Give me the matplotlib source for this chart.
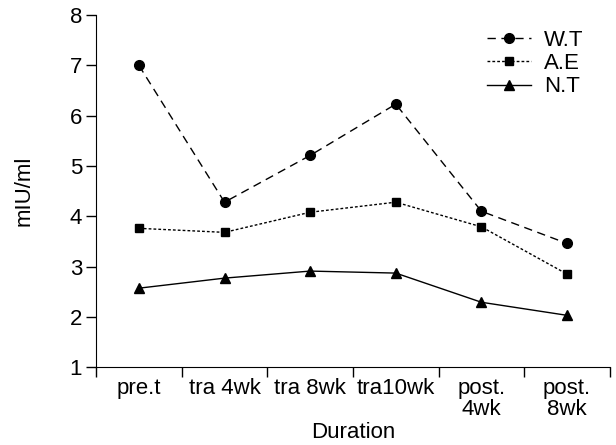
import numpy as np
import matplotlib.pyplot as plt
import matplotlib
matplotlib.rcParams.update({'font.size': 16, 'font.family': ['Liberation Sans', 'DejaVu Sans']})

categories = ['pre.t', 'tra 4wk', 'tra 8wk', 'tra10wk', 'post.\n4wk', 'post.\n8wk']
wt = [7.0, 4.28, 5.21, 6.23, 4.10, 3.46]
ae = [3.76, 3.68, 4.08, 4.28, 3.79, 2.85]
nt = [2.57, 2.77, 2.91, 2.87, 2.29, 2.03]

fig = plt.figure(figsize=(6.16, 4.45), dpi=100, facecolor='w')
ax = fig.add_axes([0.156, 0.175, 0.834, 0.791])

x = np.arange(len(categories))
ax.plot(x, wt, color='k', lw=1, dashes=(6, 4), marker='o', ms=7, label='W.T')
ax.plot(x, ae, color='k', lw=1, dashes=(2, 1.5), marker='s', ms=6, label='A.E')
ax.plot(x, nt, color='k', lw=1, ls='-', marker='^', ms=7, label='N.T')

ax.set_xlim(-0.5, len(categories) - 0.5)
ax.set_ylim(1, 8)
ax.set_yticks(range(1, 9))
ax.set_xticks(np.arange(-0.5, len(categories), 1))
ax.set_xticklabels([])
ax.set_xticks(x, minor=True)
ax.set_xticklabels(categories, minor=True, ha='center', va='top', linespacing=1.0)
ax.tick_params(axis='x', which='minor', length=0, pad=8)
ax.tick_params(axis='both', which='major', direction='out', length=7, width=1)
ax.tick_params(axis='y', pad=3)

ax.spines['top'].set_visible(False)
ax.spines['right'].set_visible(False)

ax.set_xlabel('Duration', labelpad=1)
ax.set_ylabel('mIU/ml', labelpad=25)

ax.legend(loc='upper left', bbox_to_anchor=(0.722, 1.015), frameon=False,
          handlelength=2.0, labelspacing=0.1, handletextpad=0.55)

fig.savefig('out.png', dpi=100)
